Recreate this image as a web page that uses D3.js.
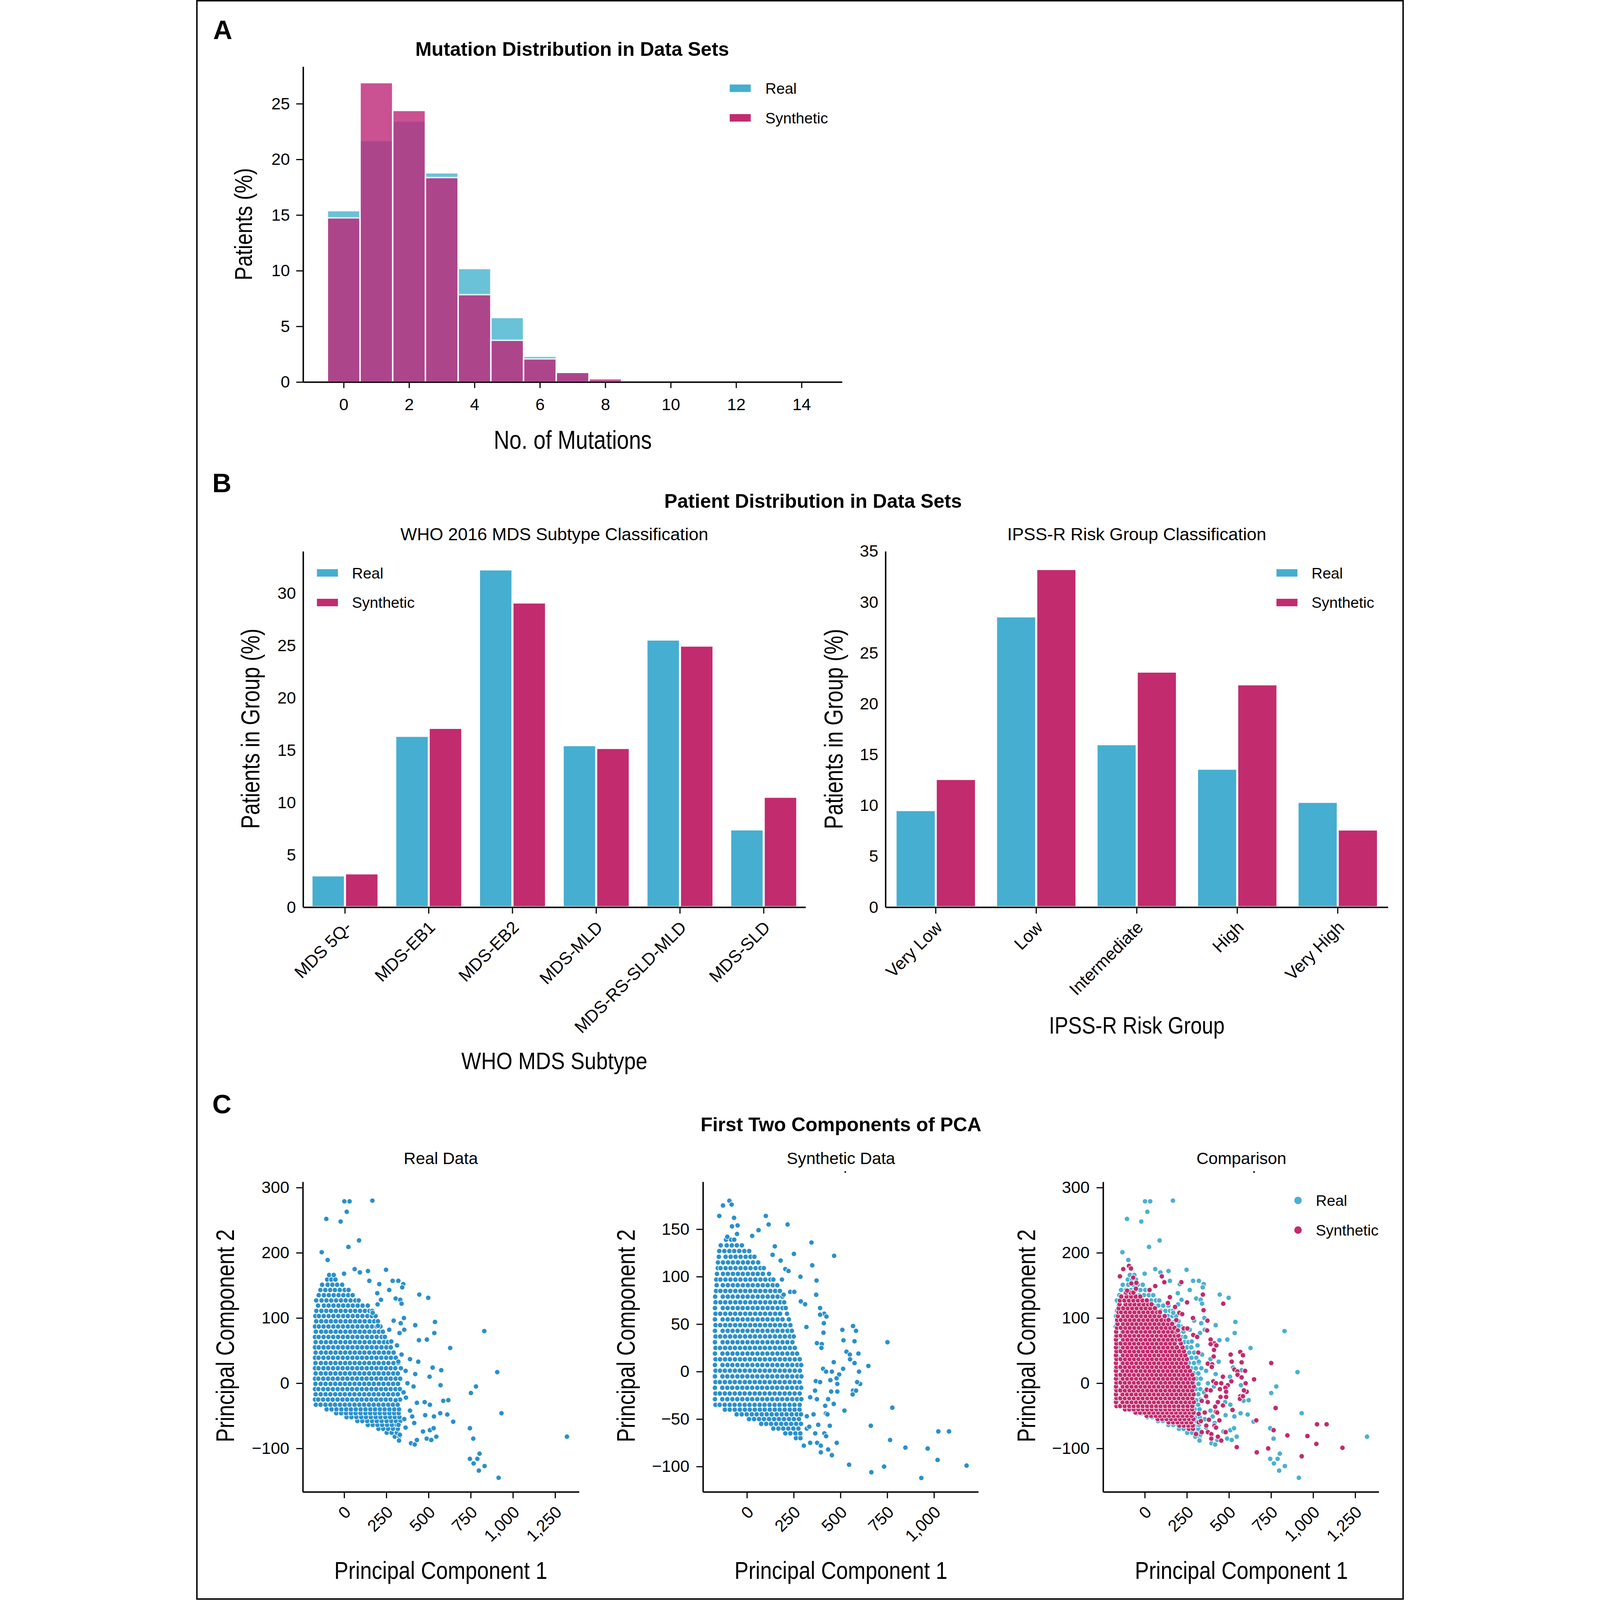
<!DOCTYPE html>
<html>
<head>
<meta charset="utf-8">
<script src="https://cdnjs.cloudflare.com/ajax/libs/d3/7.8.5/d3.min.js"></script>
<style>
  html, body { margin: 0; padding: 0; background: #fff; overflow: hidden; }
  svg { display: block; width: 100vw; height: 100vh; }
</style>
</head>
<body>
<script>
// ---------- Data ----------
// (A) mutation histogram, % of patients per mutation count
var mutCounts = [0, 1, 2, 3, 4, 5, 6, 7, 8, 9, 10, 11, 12, 13, 14];
var mutReal = [15.4, 21.7, 23.45, 18.8, 10.2, 5.8, 2.32, 0.85, 0.12, 0.05, 0, 0, 0.08, 0, 0];
var mutSynth = [14.75, 26.9, 24.4, 18.37, 7.85, 3.75, 2.08, 0.87, 0.3, 0.1, 0, 0, 0, 0, 0];
var mutXTicks = [0, 2, 4, 6, 8, 10, 12, 14];
var mutYTicks = [0, 5, 10, 15, 20, 25];

// (B) WHO subtypes
var whoTypes = ["MDS 5Q-", "MDS-EB1", "MDS-EB2", "MDS-MLD", "MDS-RS-SLD-MLD", "MDS-SLD"];
var whoReal = [3.04, 16.37, 32.27, 15.48, 25.57, 7.43];
var whoSynth = [3.23, 17.13, 29.11, 15.21, 24.99, 10.55];
var whoYTicks = [0, 5, 10, 15, 20, 25, 30];

// (B) IPSS-R risk groups
var ipssGroups = ["Very Low", "Low", "Intermediate", "High", "Very High"];
var ipssReal = [9.55, 28.6, 16.03, 13.62, 10.36];
var ipssSynth = [12.61, 33.26, 23.17, 21.92, 7.64];
var ipssYTicks = [0, 5, 10, 15, 20, 25, 30, 35];

// (C) PCA ticks
var pcaRealXTicks = [0, 250, 500, 750, 1000, 1250];
var pcaRealYTicks = [-100, 0, 100, 200, 300];
var pcaSynthXTicks = [0, 250, 500, 750, 1000];
var pcaSynthYTicks = [-100, -50, 0, 50, 100, 150];

// (C) real data, dense cloud read row by row: [PC2, PC1, PC1, ...]
var realRows = [
  [-82, 300, 326],
  [-76, 252, 281, 312],
  [-70, 203, 231, 260, 289, 318],
  [-64, 140, 169, 197, 225, 254, 283, 311],
  [-58, 78, 107, 136, 165, 193, 222, 251, 279, 306, 333],
  [-52, 14, 43, 72, 101, 129, 158, 187, 215, 244, 272, 300, 327],
  [-46, -47, -18, 11, 40, 68, 97, 126, 154, 183, 211, 240, 268, 296, 323],
  [-40, -104, -75, -46, -17, 12, 40, 69, 98, 126, 155, 183, 212, 240, 268, 297, 325],
  [-33, -168, -140, -111, -82, -54, -25, 4, 32, 61, 90, 118, 147, 175, 204, 232, 261, 289, 317],
  [-25, -173, -154, -125, -96, -68, -39, -10, 18, 47, 76, 104, 133, 161, 190, 218, 247, 275, 303, 331],
  [-17, -169, -139, -110, -82, -53, -24, 4, 33, 61, 90, 119, 147, 176, 204, 233, 261, 290, 318],
  [-9, -173, -153, -124, -96, -67, -38, -10, 19, 47, 76, 105, 133, 162, 190, 219, 247, 276, 304, 330],
  [-1, -170, -139, -110, -81, -53, -24, 5, 33, 62, 90, 119, 147, 176, 205, 233, 262, 290, 319],
  [7, -173, -153, -124, -95, -67, -38, -9, 19, 48, 76, 105, 133, 162, 191, 219, 248, 276, 305, 332],
  [15, -169, -138, -109, -81, -52, -23, 5, 34, 62, 91, 119, 148, 177, 205, 234, 262, 291, 318],
  [23, -173, -152, -123, -95, -66, -37, -9, 20, 48, 77, 105, 134, 163, 191, 220, 248, 276, 303, 336],
  [31, -170, -138, -109, -80, -52, -23, 6, 34, 63, 91, 120, 148, 177, 205, 234, 262, 292, 321],
  [39, -173, -152, -123, -94, -66, -37, -8, 20, 49, 77, 106, 134, 163, 191, 220, 249, 277, 306],
  [47, -169, -137, -108, -80, -51, -22, 6, 35, 63, 92, 120, 149, 178, 206, 235, 264, 293],
  [55, -173, -151, -122, -94, -65, -36, -8, 21, 49, 78, 106, 135, 164, 192, 221, 250, 276],
  [63, -169, -137, -108, -79, -51, -22, 7, 35, 64, 92, 121, 150, 178, 207, 236, 259],
  [71, -173, -151, -122, -93, -65, -36, -7, 21, 50, 78, 107, 136, 164, 193, 222, 241],
  [79, -168, -136, -108, -79, -50, -22, 7, 36, 64, 93, 121, 150, 179, 206, 229],
  [87, -173, -150, -122, -93, -64, -36, -7, 22, 50, 79, 107, 136, 165, 192, 215],
  [95, -166, -136, -107, -78, -50, -21, 8, 36, 65, 93, 122, 151, 178, 200],
  [103, -171, -150, -121, -92, -64, -35, -6, 22, 51, 79, 108, 137, 164, 186],
  [111, -165, -135, -106, -78, -49, -20, 8, 37, 65, 94, 123, 150, 166],
  [119, -155, -120, -92, -63, -34, -6, 23, 51, 80, 109, 140],
  [127, -166, -134, -105, -77, -48, -19, 9, 38, 66, 86],
  [135, -151, -120, -91, -62, -33, -5, 24, 50],
  [143, -141, -112, -83, -55, -26, 3, 26],
  [151, -131, -98, -70, -42, -12],
  [159, -101, -76, -52],
  [166, -89, -62]
];

// (C) real data, scattered points [PC1, PC2]
var realOut = [
  [1, 279], [32, 279], [167, 280], [15, 263], [-106, 252], [-21, 248], [88, 219], [25, 209], [-133, 201], [-98, 189],
  [62, 175], [93, 170], [141, 172], [248, 174], [-1, 168], [149, 157], [208, 152], [287, 157], [321, 157], [350, 152],
  [344, 147], [267, 143], [305, 130], [332, 128], [340, 122], [445, 136], [498, 131], [196, 138], [218, 128], [198, 121],
  [169, 108], [538, 94], [421, 89], [200, 88], [354, 100], [293, 96], [335, 92], [356, 82], [267, 82], [328, 77],
  [534, 77], [443, 66], [490, 67], [830, 80], [628, 54], [279, 64], [313, 58], [340, 44], [390, 37], [321, 33],
  [439, 33], [364, 19], [421, 14], [524, 24], [575, 20], [506, 10], [907, 17], [781, -5], [571, -3], [411, -5],
  [375, 0], [751, -15], [352, -14], [366, -22], [305, -26], [431, -30], [477, -29], [508, -33], [587, -27], [617, -26],
  [390, -42], [403, -51], [415, -61], [480, -49], [532, -51], [569, -46], [611, -48], [646, -59], [356, -55], [322, -64],
  [364, -68], [330, -79], [325, -88], [396, -92], [418, -94], [431, -87], [467, -74], [489, -85], [508, -72], [516, -87],
  [530, -69], [546, -82], [745, -69], [765, -85], [932, -46], [1320, -82], [745, -116], [767, -123], [789, -116],
  [802, -108], [798, -134], [832, -127], [915, -145]
];

// (C) synthetic data, dense cloud rows: [PC2, PC1, PC1, ...]
var synthRows = [
  [-70, 262, 286],
  [-65, 205, 232, 259, 285],
  [-60, 141, 168, 194, 221, 248, 275],
  [-55, 76, 103, 129, 156, 183, 209, 236, 263, 289],
  [-50, 11, 38, 65, 91, 118, 145, 171, 198, 225, 251, 278],
  [-45, -55, -28, -1, 26, 52, 79, 106, 132, 159, 186, 212, 239, 266, 289],
  [-40, -118, -92, -65, -38, -11, 15, 42, 69, 95, 122, 149, 175, 202, 229, 255, 281],
  [-35, -168, -146, -119, -92, -66, -39, -12, 14, 41, 68, 94, 121, 148, 174, 201, 228, 254, 282],
  [-29, -171, -132, -105, -78, -52, -25, 2, 28, 55, 82, 108, 135, 162, 188, 215, 242, 268, 291],
  [-23, -168, -145, -118, -92, -65, -38, -12, 15, 42, 68, 95, 122, 148, 175, 202, 228, 255, 282],
  [-17, -171, -132, -105, -79, -52, -25, 1, 28, 55, 81, 108, 135, 161, 188, 215, 241, 268, 290],
  [-11, -168, -145, -118, -91, -65, -38, -11, 15, 42, 69, 95, 122, 149, 175, 202, 229, 255, 281],
  [-5, -171, -131, -105, -78, -51, -25, 2, 29, 55, 82, 109, 135, 162, 189, 215, 242, 269, 291],
  [1, -168, -144, -118, -91, -64, -38, -11, 16, 42, 69, 96, 122, 149, 176, 202, 229, 256, 283],
  [7, -171, -131, -104, -78, -51, -24, 2, 29, 56, 82, 109, 136, 162, 189, 216, 242, 269, 290],
  [13, -168, -144, -117, -91, -64, -37, -11, 16, 43, 69, 96, 123, 149, 176, 203, 229, 256, 282],
  [19, -171, -131, -104, -77, -51, -24, 3, 29, 56, 83, 109, 136, 163, 189, 216, 243, 268],
  [25, -168, -144, -117, -90, -64, -37, -10, 16, 43, 70, 96, 123, 150, 176, 203, 230, 256],
  [31, -171, -130, -104, -77, -50, -24, 3, 30, 56, 83, 110, 136, 163, 190, 216, 243],
  [37, -168, -143, -117, -90, -63, -37, -10, 17, 43, 70, 97, 123, 150, 177, 203, 230, 250],
  [43, -171, -130, -103, -77, -50, -23, 3, 30, 57, 83, 110, 137, 163, 190, 217, 240],
  [49, -168, -143, -116, -90, -63, -36, -10, 17, 44, 70, 97, 124, 150, 177, 204, 232],
  [55, -171, -130, -103, -76, -50, -23, 4, 30, 57, 84, 110, 137, 164, 190, 224],
  [61, -168, -143, -116, -89, -63, -36, -9, 17, 44, 71, 97, 124, 151, 177, 214],
  [67, -171, -129, -103, -76, -49, -23, 4, 31, 57, 84, 111, 137, 164, 190, 207],
  [73, -168, -142, -116, -89, -62, -36, -9, 18, 44, 71, 98, 124, 151, 178, 199],
  [79, -170, -129, -102, -76, -49, -22, 4, 31, 58, 84, 111, 138, 164, 189],
  [85, -165, -142, -115, -89, -62, -35, -9, 18, 45, 71, 98, 125, 151, 176],
  [91, -162, -129, -102, -75, -49, -22, 5, 31, 58, 85, 111, 138, 162],
  [97, -164, -142, -115, -88, -62, -35, -8, 18, 45, 72, 98, 125, 141],
  [103, -160, -128, -102, -75, -48, -22, 5, 32, 58, 85, 118],
  [109, -156, -141, -114, -88, -61, -34, -8, 19, 46, 72, 90],
  [115, -155, -128, -101, -75, -48, -21, 5, 32, 60],
  [121, -150, -114, -87, -61, -34, -7, 19, 40],
  [127, -148, -121, -94, -68, -41, -14, 12],
  [133, -140, -108, -81, -54, -27],
  [139, -112, -85, -68]
];

// (C) synthetic data, scattered points [PC1, PC2]
var synthOut = [
  [-94, 180], [-82, 176], [-128, 175], [-148, 164], [101, 164], [-69, 162], [116, 155], [217, 155], [-80, 153], [-50, 154],
  [62, 149], [-53, 145], [28, 143], [-105, 142], [149, 132], [345, 136], [251, 124], [466, 122], [137, 123], [349, 112],
  [180, 117], [286, 100], [372, 96], [205, 108], [222, 106], [187, 97], [370, 81], [196, 81], [231, 84], [253, 84],
  [288, 74], [311, 71], [391, 67], [413, 61], [425, 58], [391, 60], [318, 47], [411, 51], [409, 41], [510, 44],
  [567, 48], [583, 43], [516, 33], [575, 32], [751, 31], [374, 30], [400, 29], [398, 25], [532, 21], [550, 18],
  [596, 19], [551, 13], [575, 9], [464, 10], [649, 6], [514, 3], [407, 3], [423, 0], [454, 0], [599, 0],
  [493, -3], [479, -7], [446, -9], [483, -13], [605, -13], [589, -11], [368, -10], [391, -11], [364, -20], [450, -21],
  [483, -21], [567, -20], [565, -24], [583, -20], [338, -27], [434, -29], [374, -29], [464, -34], [521, -41], [418, -36],
  [777, -38], [356, -45], [422, -44], [430, -45], [320, -47], [443, -57], [381, -56], [662, -57], [320, -60], [333, -58],
  [365, -65], [414, -65], [423, -68], [480, -75], [765, -72], [338, -75], [375, -75], [304, -78], [395, -78], [395, -85],
  [434, -82], [454, -88], [546, -98], [665, -106], [733, -100], [847, -80], [966, -81], [1023, -63], [1080, -63],
  [1019, -93], [932, -112], [1174, -99]
];

// ---------- Setup ----------
var SANS = "'Liberation Sans', Arial, Helvetica, sans-serif";
var NARROW = "'Liberation Sans Narrow', 'Liberation Sans', Arial, sans-serif";
var realColor = "#46aed0";
var synthColor = "#c22b6e";

var svgWidth = 4201;
var svgHeight = 5566;

// drawn in a fixed 4201 x 5566 coordinate system, fitted to the window
var svg = d3.select("body")
  .append("svg")
  .attr("viewBox", "0 0 " + svgWidth + " " + svgHeight)
  .attr("preserveAspectRatio", "xMidYMid meet");

svg.append("rect")
  .attr("width", svgWidth)
  .attr("height", svgHeight)
  .attr("fill", "#fff");

// figure frame
svg.append("rect")
  .attr("x", 2.5).attr("y", 2.5)
  .attr("width", svgWidth - 5).attr("height", svgHeight - 6)
  .attr("fill", "none")
  .attr("stroke", "#000")
  .attr("stroke-width", 5);

function rowsToPoints(rows) {
  var pts = [];
  rows.forEach(function (r) {
    for (var i = 1; i < r.length; i++) pts.push([r[i], r[0]]);
  });
  return pts;
}
var realPts = rowsToPoints(realRows).concat(realOut);
var synthPts = rowsToPoints(synthRows).concat(synthOut);

function label(x, y, str, size, weight) {
  return svg.append("text")
    .attr("x", x).attr("y", y)
    .attr("text-anchor", "middle")
    .attr("font-family", SANS)
    .attr("font-size", size)
    .attr("font-weight", weight || "normal")
    .text(str);
}

// condensed axis titles; squeeze if the font is wider than the original
function axisTitle(x, y, str, size, target, rotate) {
  var t = svg.append("text")
    .attr("transform", "translate(" + x + "," + y + ")" + (rotate ? " rotate(-90)" : ""))
    .attr("text-anchor", "middle")
    .attr("font-family", NARROW)
    .attr("font-size", size)
    .text(str);
  var len = t.node().getComputedTextLength();
  if (len > target * 1.03) {
    t.attr("textLength", target).attr("lengthAdjust", "spacingAndGlyphs");
  }
  return t;
}

function styleAxis(g, size) {
  g.attr("font-family", SANS).attr("font-size", size);
  g.select(".domain").attr("stroke-width", 5);
  g.selectAll(".tick line").attr("stroke-width", 4);
}

function rotateTicks(g) {
  g.selectAll(".tick text")
    .attr("x", 0).attr("y", 0).attr("dy", 0)
    .attr("text-anchor", "end")
    .attr("transform", "translate(26,74) rotate(-45)");
}

function rectLegend(x, y0, textX) {
  [["Real", realColor], ["Synthetic", synthColor]].forEach(function (d, i) {
    svg.append("rect")
      .attr("x", x).attr("y", y0 + i * 103)
      .attr("width", 73).attr("height", 26)
      .attr("fill", d[1]);
    svg.append("text")
      .attr("x", textX).attr("y", y0 + i * 103 + 32)
      .attr("font-family", SANS).attr("font-size", 53)
      .text(d[0]);
  });
}

// panel letters
[["A", 59, 136], ["B", 56, 1712], ["C", 56, 3873]].forEach(function (d) {
  svg.append("text")
    .attr("x", d[1]).attr("y", d[2])
    .attr("font-family", SANS).attr("font-weight", "bold").attr("font-size", 92)
    .text(d[0]);
});

// ---------- (A) Mutation histogram ----------
label(1308, 195, "Mutation Distribution in Data Sets", 68, "bold");

var xA = d3.scaleLinear().domain([-1.24, 15.24]).range([372, 2247]);
var yA = d3.scaleLinear().domain([0, 28.33]).range([1329, 232]);

function histBars(values, color) {
  svg.append("g").selectAll("rect")
    .data(mutCounts.filter(function (c, i) { return values[i] > 0; }))
    .enter()
    .append("rect")
    .attr("x", function (c) { return xA(c - 0.5); })
    .attr("width", function (c) { return xA(c + 0.5) - xA(c - 0.5); })
    .attr("y", function (c) { return yA(values[c]); })
    .attr("height", function (c) { return yA(0) - yA(values[c]); })
    .attr("fill", color)
    .attr("stroke", "#fff")
    .attr("stroke-width", 5)
    .attr("opacity", 0.8);
}
histBars(mutReal, "#45b4cf");
histBars(mutSynth, "#be2678");

var axA = svg.append("g")
  .attr("transform", "translate(0,1329)")
  .call(d3.axisBottom(xA).tickValues(mutXTicks).tickSize(21).tickSizeOuter(0).tickPadding(36));
styleAxis(axA, 58);

var ayA = svg.append("g")
  .attr("transform", "translate(372,0)")
  .call(d3.axisLeft(yA).tickValues(mutYTicks).tickSize(24).tickSizeOuter(0).tickPadding(22));
styleAxis(ayA, 58);

axisTitle(1310, 1562, "No. of Mutations", 90, 550, false);
axisTitle(194, 780, "Patients (%)", 86, 391, true);
rectLegend(1856, 294, 1980);

// ---------- (B) Grouped bars ----------
label(2146, 1766, "Patient Distribution in Data Sets", 68, "bold");

function groupedBars(cfg) {
  var x = d3.scaleBand().domain(cfg.cats).range(cfg.xRange).paddingInner(0.2).paddingOuter(0.1);
  var y = d3.scaleLinear().domain(cfg.yDomain).range([3156, 1918]);
  var half = x.bandwidth() / 2;
  var g = svg.append("g");

  [[cfg.real, realColor, 0], [cfg.synth, synthColor, 1]].forEach(function (s) {
    g.selectAll(null)
      .data(cfg.cats)
      .enter()
      .append("rect")
      .attr("x", function (c) { return x(c) + s[2] * half; })
      .attr("width", half)
      .attr("y", function (c, i) { return y(s[0][i]); })
      .attr("height", function (c, i) { return y(0) - y(s[0][i]); })
      .attr("fill", s[1])
      .attr("stroke", "#fff")
      .attr("stroke-width", 7);
  });

  var ax = g.append("g")
    .attr("transform", "translate(0,3156)")
    .call(d3.axisBottom(x).tickSize(22).tickSizeOuter(0));
  styleAxis(ax, 60);
  rotateTicks(ax);

  var ay = g.append("g")
    .attr("transform", "translate(" + cfg.xRange[0] + ",0)")
    .call(d3.axisLeft(y).tickValues(cfg.yTicks).tickSize(0).tickSizeOuter(0).tickPadding(25));
  styleAxis(ay, 58);
}

groupedBars({ cats: whoTypes, real: whoReal, synth: whoSynth, xRange: [372, 2120], yDomain: [0, 34], yTicks: whoYTicks });
groupedBars({ cats: ipssGroups, real: ipssReal, synth: ipssSynth, xRange: [2398, 4146], yDomain: [0, 35], yTicks: ipssYTicks });

label(1246, 1880, "WHO 2016 MDS Subtype Classification", 61);
label(3272, 1880, "IPSS-R Risk Group Classification", 61);
rectLegend(420, 1980, 542);
rectLegend(3758, 1980, 3880);
axisTitle(1246, 3719, "WHO MDS Subtype", 82, 647, false);
axisTitle(3272, 3596, "IPSS-R Risk Group", 82, 611, false);
axisTitle(220, 2535, "Patients in Group (%)", 90, 697, true);
axisTitle(2249, 2536, "Patients in Group (%)", 90, 697, true);

// ---------- (C) PCA scatter ----------
label(2243, 3935, "First Two Components of PCA", 68, "bold");

function scatterPanel(cfg) {
  var x = d3.scaleLinear().domain(cfg.xDomain).range(cfg.xRange);
  var y = d3.scaleLinear().domain(cfg.yDomain).range([5190, 4111]);
  var g = svg.append("g");

  cfg.layers.forEach(function (layer) {
    g.append("g").selectAll("circle")
      .data(layer[0])
      .enter()
      .append("circle")
      .attr("cx", function (d) { return x(d[0]); })
      .attr("cy", function (d) { return y(d[1]); })
      .attr("r", 9)
      .attr("fill", layer[1])
      .attr("stroke", "#fff")
      .attr("stroke-width", 2);
  });

  var ax = g.append("g")
    .attr("transform", "translate(0,5190)")
    .call(d3.axisBottom(x).tickValues(cfg.xTicks).tickSize(22).tickSizeOuter(0).tickFormat(d3.format(",")));
  styleAxis(ax, 58);
  rotateTicks(ax);

  var ay = g.append("g")
    .attr("transform", "translate(" + cfg.xRange[0] + ",0)")
    .call(d3.axisLeft(y).tickValues(cfg.yTicks).tickSize(23).tickSizeOuter(0).tickPadding(24).tickFormat(d3.format(",")));
  styleAxis(ay, 58);

  label(cfg.titleX, 4049, cfg.title, 58);
  axisTitle(cfg.titleX, 5493, "Principal Component 1", 86, 741, false);
  axisTitle(cfg.yLabelX, 4647, "Principal Component 2", 88, 741, true);

  // small stray mark below the subtitle, as in the original
  if (cfg.speckX) {
    g.append("circle").attr("cx", cfg.speckX).attr("cy", 4077).attr("r", 3).attr("fill", "#000");
  }
}

scatterPanel({
  title: "Real Data", titleX: 851, yLabelX: 131,
  xDomain: [-245, 1392], xRange: [371, 1332], yDomain: [-166.7, 309],
  xTicks: pcaRealXTicks, yTicks: pcaRealYTicks,
  layers: [[realPts, "#2a90cb"]]
});
scatterPanel({
  title: "Synthetic Data", titleX: 2243, yLabelX: 1526, speckX: 2258,
  xDomain: [-235, 1237], xRange: [1763, 2721], yDomain: [-126.7, 200],
  xTicks: pcaSynthXTicks, yTicks: pcaSynthYTicks,
  layers: [[synthPts, "#2a90cb"]]
});
scatterPanel({
  title: "Comparison", titleX: 3636, yLabelX: 2918, speckX: 3680,
  xDomain: [-247.6, 1390], xRange: [3155, 4114], yDomain: [-166.7, 309],
  xTicks: pcaRealXTicks, yTicks: pcaRealYTicks,
  layers: [[realPts, "#4bb0d1"], [synthPts, synthColor]]
});

// comparison legend
[["Real", "#4bb0d1"], ["Synthetic", synthColor]].forEach(function (d, i) {
  svg.append("circle")
    .attr("cx", 3833).attr("cy", 4176 + i * 103)
    .attr("r", 13)
    .attr("fill", d[1]);
  svg.append("text")
    .attr("x", 3895).attr("y", 4195 + i * 103)
    .attr("font-family", SANS).attr("font-size", 53)
    .text(d[0]);
});
</script>
</body>
</html>
